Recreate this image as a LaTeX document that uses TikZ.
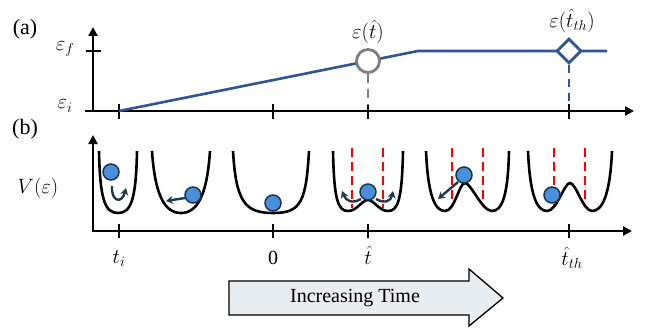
\documentclass[tikz,border=0pt]{standalone}
\usepackage{fontspec}
\setmainfont{Liberation Serif}
\usetikzlibrary{arrows.meta,shapes.geometric}
\definecolor{lineblue}{HTML}{2F5597}
\definecolor{markgray}{HTML}{7F7F7F}
\definecolor{ballfill}{HTML}{4A8FDB}
\definecolor{balledge}{HTML}{1B3550}
\definecolor{arrnavy}{HTML}{1F3A4F}
\definecolor{bigfill}{HTML}{E8EDF2}
\definecolor{dashred}{HTML}{FF0000}
\tikzset{
  axis/.style={line width=2.6pt,-{Triangle[length=9pt,width=9pt]}},
  tick/.style={line width=2.6pt},
  well/.style={line width=2.6pt,black},
  ball/.style={circle,draw=balledge,fill=ballfill,line width=1.5pt,minimum size=16pt,inner sep=0pt},
  motion/.style={line width=2.4pt,arrnavy,-{Stealth[length=7pt,width=8pt]}},
  reddash/.style={line width=1.8pt,dashred,dash pattern=on 9pt off 5pt},
  lbl/.style={font=\fontsize{20}{24}\selectfont,inner sep=0pt},
  panel/.style={font=\fontsize{22}{26}\selectfont,inner sep=0pt},
}
\begin{document}
\begin{tikzpicture}[x=1pt,y=-1pt]
\useasboundingbox (0,0) rectangle (658,329);

% ---------------- panel (a)
\node[panel] (pa) at (25,29) {(a)};
\coordinate (ayend) at (93,27);
\coordinate (axstart) at (85,111);
\coordinate (axend) at (634,111);
\draw[axis] (93,112) -- (ayend);
\draw[axis] (axstart) -- (axend);
\draw[tick] (86,51) -- (101,51);
\node[lbl] (ef) at (65,49) {$\varepsilon_f$};
\node[lbl] (ei) at (65,106) {$\varepsilon_i$};
\foreach \x in {119,273,368,569}{
  \draw[tick] (\x,104) -- (\x,119);
}
\coordinate (ls) at (119,111);
\coordinate (lk) at (418,51);
\coordinate (le) at (607,51);
\draw[line width=2.6pt,lineblue] (ls) -- (lk) -- (le);
\node[circle,draw=markgray,fill=white,line width=2.8pt,minimum size=23pt,inner sep=0pt] (mk1) at (368,61) {};
\node[diamond,draw=lineblue,fill=white,line width=2.8pt,minimum width=25pt,minimum height=25pt,inner sep=0pt] (mk2) at (569,51) {};
\coordinate (mk1b) at (368,105);
\coordinate (mk2b) at (569,105);
\draw[line width=2.4pt,markgray,dash pattern=on 9pt off 6pt] (mk1.south) -- (mk1b);
\draw[line width=2.4pt,lineblue,dash pattern=on 8pt off 6pt] (mk2.south) -- (mk2b);
\node[lbl] (l1) at (368,32) {$\varepsilon(\hat{t})$};
\node[lbl] (l2) at (572,21) {$\varepsilon(\hat{t}_{th})$};

% ---------------- panel (b)
\node[panel] (pb) at (25,129) {(b)};
\coordinate (byend) at (93,135);
\coordinate (bxend) at (632,231);
\draw[axis] (93,231) -- (byend);
\draw[axis] (92,231) -- (bxend);
\foreach \x in {119,273,368,569}{
  \draw[tick] (\x,224) -- (\x,238);
}
\node[lbl] (vl) at (38,188) {$V(\varepsilon)$};
\node[lbl] (x1) at (119,259) {$t_i$};
\node[lbl] (x2) at (273,258) {0};
\node[lbl] (x3) at (368,255) {$\hat{t}$};
\node[lbl] (x4) at (572,258) {$\hat{t}_{th}$};

% red dashed lines (behind wells)
\foreach \x in {352,383}{\draw[reddash] (\x,148) -- (\x,208);}
\foreach \x in {452,483}{\draw[reddash] (\x,148) -- (\x,207);}
\foreach \x in {554,585}{\draw[reddash] (\x,148) -- (\x,207);}

% wells
\draw[well] (99,151) .. controls (100,200) and (105,213) .. (118,213) .. controls (131,213) and (136,200) .. (137,151);
\draw[well] (152,151) .. controls (155,196) and (165,213) .. (181,213) .. controls (197,213) and (207,196) .. (210,151);
\draw[well] (233,151) .. controls (236,202) and (245,213) .. (273,213) .. controls (301,213) and (306,202) .. (309,151);
\draw[well] (333,151) .. controls (334,200) and (338,211) .. (348,211) .. controls (357,211) and (362,200) .. (368,200) .. controls (374,200) and (379,211) .. (388,211) .. controls (398,211) and (402,200) .. (403,151);
\draw[well] (426,151) .. controls (428,196) and (435,211) .. (445,211) .. controls (455,211) and (459,183) .. (465,183) .. controls (471,183) and (482,211) .. (492,211) .. controls (502,211) and (508,196) .. (509,151);
\draw[well] (528,151) .. controls (530,196) and (537,211) .. (547,211) .. controls (557,211) and (564,183) .. (570,183) .. controls (576,183) and (583,211) .. (592,211) .. controls (602,211) and (610,196) .. (612,151);

% motion arrows
\coordinate (a1s) at (112,186);
\coordinate (a1e) at (126,188);
\draw[motion] (a1s) .. controls (111,202) and (122,204) .. (a1e);
\coordinate (a2s) at (185,198);
\coordinate (a2e) at (166,201);
\draw[motion] (a2s) -- (a2e);
\coordinate (a3s) at (361,199);
\coordinate (a3e) at (342,191);
\draw[motion] (a3s) .. controls (352,204) and (346,201) .. (a3e);
\coordinate (a4s) at (376,199);
\coordinate (a4e) at (393,191);
\draw[motion] (a4s) .. controls (385,204) and (391,201) .. (a4e);
\coordinate (a5s) at (458,182);
\coordinate (a5e) at (438,199);
\draw[motion] (a5s) -- (a5e);

% balls
\node[ball] (b1) at (111,172) {};
\node[ball] (b2) at (193,195) {};
\node[ball] (b3) at (273,203) {};
\node[ball] (b4) at (368,192) {};
\node[ball] (b5) at (464,175) {};
\node[ball] (b6) at (552,195) {};

% big arrow
\coordinate (p1) at (229,281);
\coordinate (p2) at (469,281);
\coordinate (p3) at (469,269);
\coordinate (p4) at (503,298);
\coordinate (p5) at (469,326);
\coordinate (p6) at (469,315);
\coordinate (p7) at (229,315);
\draw[line width=1.3pt,fill=bigfill] (p1) -- (p2) -- (p3) -- (p4) -- (p5) -- (p6) -- (p7) -- cycle;
\node[lbl] (it) at (355,298) {Increasing Time};
\end{tikzpicture}
\end{document}
